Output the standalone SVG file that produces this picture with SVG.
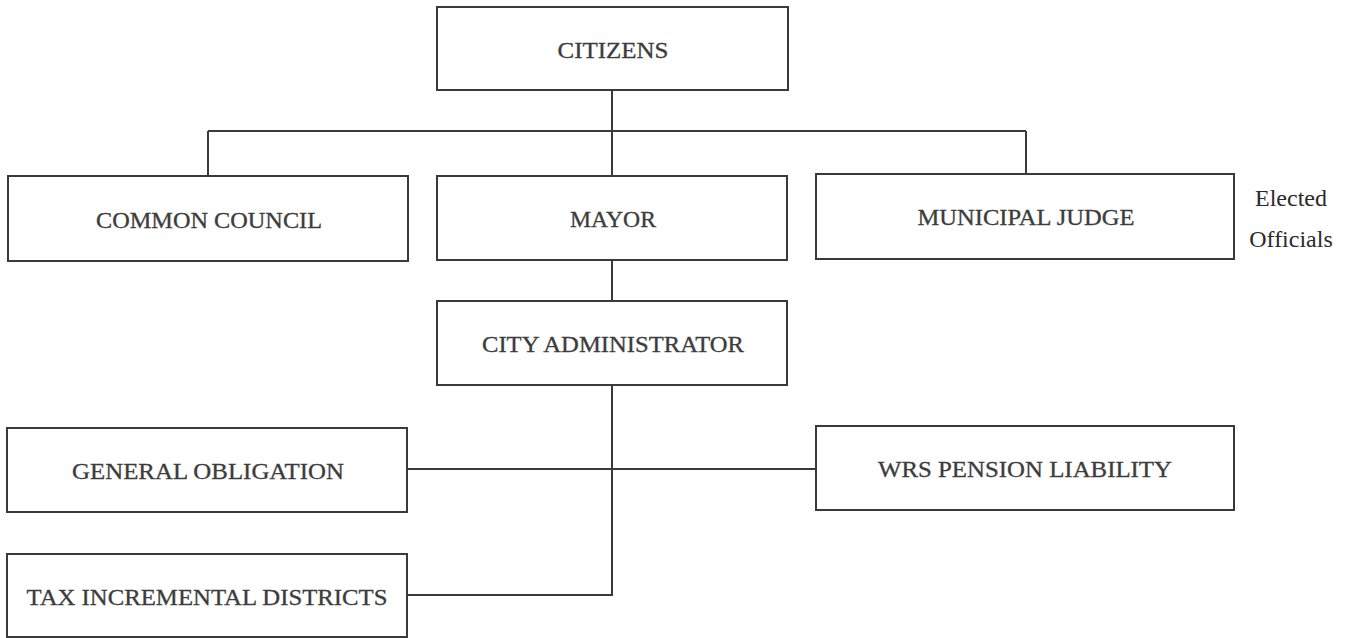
<svg xmlns="http://www.w3.org/2000/svg" width="1351" height="638" viewBox="0 0 1351 638">
<style>
.box{fill:#fff;stroke:#3a3a3a;stroke-width:2}
.lbl{font-family:"Liberation Serif","Times New Roman",serif;font-size:23px;fill:#3c3c3c;stroke:#3c3c3c;stroke-width:0.3;text-anchor:middle}
.side{font-family:"Liberation Serif","Times New Roman",serif;font-size:24px;fill:#2a2a2a;text-anchor:middle}
.con{fill:none;stroke:#3a3a3a;stroke-width:2}
</style>
<rect width="1351" height="638" fill="#fff"/>
<g id="connectors">
<path class="con" d="M612 90V131M208 131H1026M208 131V176M612 131V176M1026 131V174"/>
<path class="con" d="M612 260V301"/>
<path class="con" d="M612 385V595H407M407 469H816"/>
</g>
<g id="citizens"><rect class="box" x="437" y="7" width="351" height="83"/><text class="lbl" x="613" y="58" textLength="111" lengthAdjust="spacingAndGlyphs">CITIZENS</text></g>
<g id="common-council"><rect class="box" x="8" y="176" width="400" height="85"/><text class="lbl" x="209" y="228" textLength="226" lengthAdjust="spacingAndGlyphs">COMMON COUNCIL</text></g>
<g id="mayor"><rect class="box" x="437" y="176" width="350" height="84"/><text class="lbl" x="613" y="227" textLength="86" lengthAdjust="spacingAndGlyphs">MAYOR</text></g>
<g id="municipal-judge"><rect class="box" x="816" y="174" width="418" height="85"/><text class="lbl" x="1026" y="225" textLength="217" lengthAdjust="spacingAndGlyphs">MUNICIPAL JUDGE</text></g>
<g id="elected-officials"><text class="side" x="1291" y="206">Elected</text><text class="side" x="1291" y="247">Officials</text></g>
<g id="city-administrator"><rect class="box" x="437" y="301" width="350" height="84"/><text class="lbl" x="613" y="352" textLength="262" lengthAdjust="spacingAndGlyphs">CITY ADMINISTRATOR</text></g>
<g id="general-obligation"><rect class="box" x="7" y="428" width="400" height="84"/><text class="lbl" x="208" y="479" textLength="272" lengthAdjust="spacingAndGlyphs">GENERAL OBLIGATION</text></g>
<g id="wrs-pension"><rect class="box" x="816" y="426" width="418" height="84"/><text class="lbl" x="1025" y="477" textLength="294" lengthAdjust="spacingAndGlyphs">WRS PENSION LIABILITY</text></g>
<g id="tax-incremental"><rect class="box" x="7" y="554" width="400" height="83"/><text class="lbl" x="207" y="605" textLength="361" lengthAdjust="spacingAndGlyphs">TAX INCREMENTAL DISTRICTS</text></g>
</svg>
